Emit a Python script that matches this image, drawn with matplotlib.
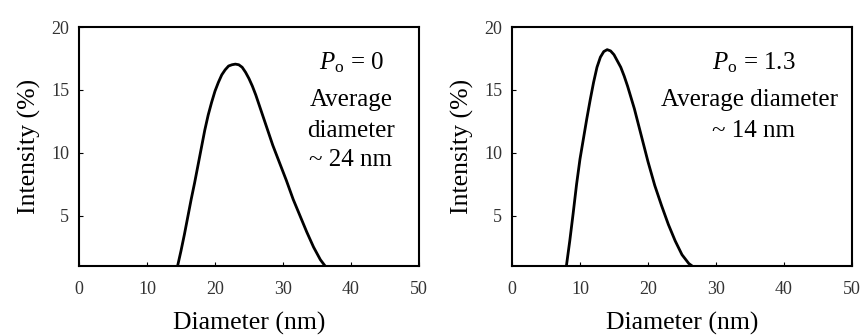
import matplotlib
matplotlib.use("Agg")
import matplotlib.pyplot as plt

plt.rcParams['font.family'] = ['Liberation Serif', 'DejaVu Serif']
plt.rcParams['mathtext.fontset'] = 'custom'
plt.rcParams['mathtext.rm'] = 'Liberation Serif'
plt.rcParams['mathtext.it'] = 'Liberation Serif:italic'

# Left panel: P_o = 0
d_left = [14.5, 15.0, 15.5, 16.0, 16.5, 17.0, 17.5, 18.0, 18.5, 19.0, 19.5,
          20.0, 20.5, 21.0, 21.5, 22.0, 22.5, 23.0, 23.5, 24.0, 24.5, 25.0,
          25.5, 26.0, 26.5, 27.0, 27.5, 28.5, 29.5, 30.5, 31.5, 32.5, 33.5,
          34.5, 35.0, 35.5, 36.2]
i_left = [1.0, 2.2, 3.5, 4.9, 6.3, 7.6, 9.0, 10.4, 11.8, 13.0, 14.0,
          14.9, 15.6, 16.2, 16.6, 16.9, 17.0, 17.05, 17.0, 16.8, 16.4, 15.9,
          15.3, 14.6, 13.8, 13.0, 12.2, 10.6, 9.2, 7.8, 6.3, 5.0, 3.7,
          2.5, 2.0, 1.5, 1.0]

# Right panel: P_o = 1.3
d_right = [8.0, 8.5, 9.0, 9.5, 10.0, 10.5, 11.0, 11.5, 12.0, 12.5, 13.0,
           13.5, 14.0, 14.5, 15.0, 15.5, 16.0, 16.5, 17.0, 18.0, 19.0, 20.0,
           21.0, 22.0, 23.0, 24.0, 25.0, 26.0, 26.5]
i_right = [1.0, 3.0, 5.2, 7.5, 9.5, 11.1, 12.7, 14.2, 15.6, 16.8, 17.6,
           18.05, 18.2, 18.1, 17.8, 17.3, 16.8, 16.1, 15.3, 13.5, 11.4, 9.3,
           7.4, 5.8, 4.3, 3.0, 1.9, 1.2, 1.0]

xticks = [0, 10, 20, 30, 40, 50]
yticks = [5, 10, 15, 20]

fig = plt.figure(figsize=(8.66, 3.36), dpi=100)
ax1 = fig.add_axes([0.0912, 0.2083, 0.3926, 0.7113])
ax2 = fig.add_axes([0.5912, 0.2083, 0.3926, 0.7113])

for ax, d, inten in [(ax1, d_left, i_left), (ax2, d_right, i_right)]:
    ax.plot(d, inten, color='black', lw=2.0)
    ax.set_xlim(0, 50)
    ax.set_ylim(1, 20)
    ax.set_xticks(xticks)
    ax.set_yticks(yticks)
    ax.tick_params(direction='in', length=3, width=0.8, labelsize=13,
                   labelcolor='#333333')
    ax.tick_params(axis='y', pad=7)
    ax.tick_params(axis='x', pad=11)
    for s in ax.spines.values():
        s.set_linewidth(1.5)
    ax.set_xlabel("Diameter (nm)", fontsize=18.5, labelpad=10)
    ax.set_ylabel("Intensity (%)", fontsize=18.5, labelpad=7)

ax1.text(0.80, 0.85, r"$P_{\mathrm{o}}$ = 0", transform=ax1.transAxes,
         ha='center', va='center', fontsize=18)
ax1.text(0.80, 0.695, "Average", transform=ax1.transAxes,
         ha='center', va='center', fontsize=18)
ax1.text(0.80, 0.565, "diameter", transform=ax1.transAxes,
         ha='center', va='center', fontsize=18)
ax1.text(0.80, 0.445, "~ 24 nm", transform=ax1.transAxes,
         ha='center', va='center', fontsize=18)

ax2.text(0.71, 0.85, r"$P_{\mathrm{o}}$ = 1.3", transform=ax2.transAxes,
         ha='center', va='center', fontsize=18)
ax2.text(0.70, 0.695, "Average diameter", transform=ax2.transAxes,
         ha='center', va='center', fontsize=18)
ax2.text(0.71, 0.565, "~ 14 nm", transform=ax2.transAxes,
         ha='center', va='center', fontsize=18)

plt.savefig("out.png", dpi=100)
